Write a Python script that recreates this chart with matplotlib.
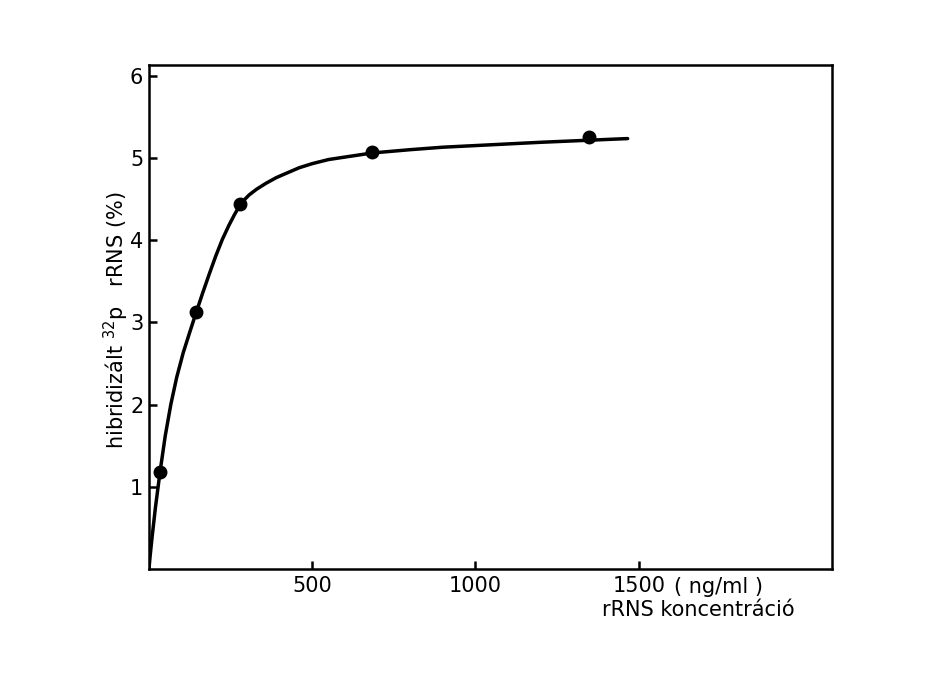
import matplotlib
matplotlib.use("Agg")
import matplotlib.pyplot as plt

# measured data points
point_x = [34, 143, 278, 684, 1347]
point_y = [1.18, 3.12, 4.44, 5.07, 5.26]

# hand-drawn fitted curve
curve_x = [0, 4, 10, 20, 34, 50, 67, 85, 105, 125, 143, 164, 185, 205, 225, 245, 262, 278,
           292, 307, 330, 358, 390, 419, 460, 500, 550, 600, 684, 800, 900, 1000, 1100,
           1200, 1347, 1466]
curve_y = [0, 0.17, 0.4, 0.75, 1.18, 1.62, 2.0, 2.33, 2.63, 2.88, 3.1, 3.35, 3.59, 3.81,
           4.01, 4.18, 4.31, 4.42, 4.49, 4.55, 4.62, 4.69, 4.76, 4.81, 4.88, 4.93, 4.98,
           5.01, 5.06, 5.1, 5.13, 5.15, 5.17, 5.19, 5.215, 5.235]

x_ticks = [500, 1000, 1500]
x_ticklabels = ["500", "1000", "1500"]
y_ticks = [1, 2, 3, 4, 5, 6]
y_ticklabels = ["1", "2", "3", "4", "5", "6"]

plt.rcParams['font.family'] = ['DejaVu Sans']
fig = plt.figure(figsize=(9.25, 6.82), dpi=100)
ax = fig.add_axes([0.161, 0.1657, 0.7385, 0.739])

ax.plot(curve_x, curve_y, color='black', lw=2.5, solid_joinstyle='round', solid_capstyle='round')
ax.plot(point_x, point_y, 'o', color='black', ms=9)

ax.set_xlim(0, 2092)
ax.set_ylim(0, 6.13)
ax.set_xticks(x_ticks)
ax.set_xticklabels(x_ticklabels)
ax.set_yticks(y_ticks)
ax.set_yticklabels(y_ticklabels)
ax.tick_params(direction='in', length=6, width=1.8, labelsize=15)
ax.tick_params(axis='x', pad=5)
ax.tick_params(axis='y', pad=4)
for s in ax.spines.values():
    s.set_linewidth(1.8)

# unit appended after the 1500 tick label, and the axis title under it
ax.text((674 - 149) / 683, -8 / 504, "( ng/ml )", transform=ax.transAxes,
        fontsize=15, ha='left', va='top')
ax.text((795 - 149) / 683, -31 / 504, "rRNS koncentráció", transform=ax.transAxes,
        fontsize=15, ha='right', va='top')
fig.text(116 / 925, 1 - 320 / 682, "hibridizált $^{32}$p   rRNS (%)", fontsize=15,
         rotation=90, ha='center', va='center')

fig.savefig("out.png", dpi=100, facecolor='white')
